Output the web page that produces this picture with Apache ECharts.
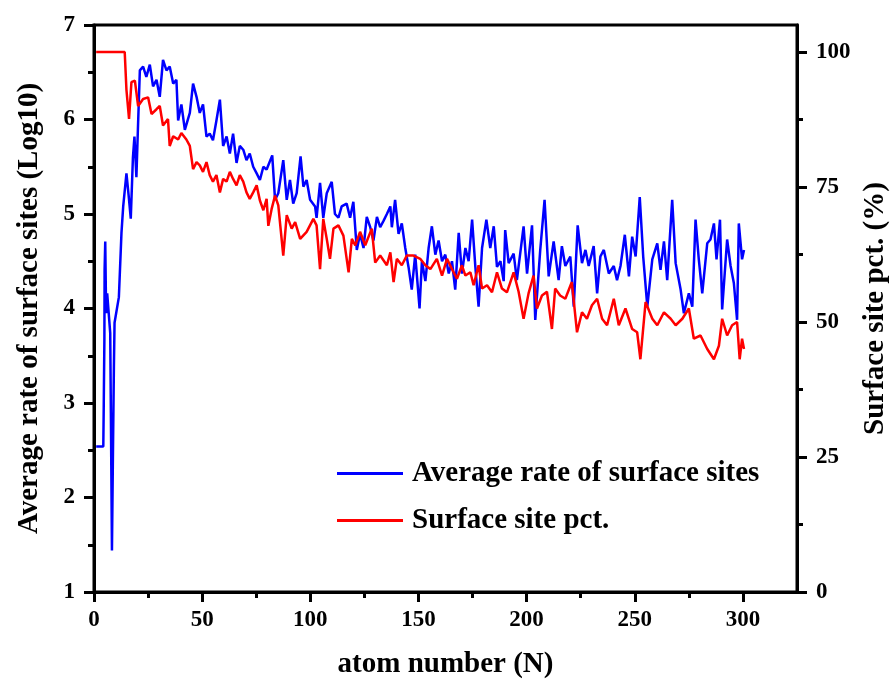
<!DOCTYPE html>
<html>
<head>
<meta charset="utf-8">
<script src="https://cdn.jsdelivr.net/npm/echarts@6/dist/echarts.min.js"></script>
<style>
html,body{margin:0;padding:0;background:#fff;}
#chart{width:893px;height:681px;}
</style>
</head>
<body>
<div id="chart"></div>
<script>
// Blue series: Average rate of surface sites (Log10) — [atom number, value]
const rateN = [1,4.3,4.5,4.8,4.9,5.2,5.6,6.1,6.8,7.5,7.8,8.3,8.7,9.2,9.5,11.5,12.7,13.5,15,16,17,18,18.7,19.6,20.3,21.2,22.7,24.2,25.8,27.3,28.9,30.4,31.9,33.5,35,36.6,38.1,38.9,40.4,42,44.3,45.8,47.4,48.9,50.4,52,53.5,55,56.6,58.2,59.7,61.3,62.8,64.3,65.9,67.4,69,70.5,72,73.6,75.2,76.7,78.3,79.8,82.4,83.7,85.2,87.5,89.1,90.6,92.1,93.7,95.5,96.8,98.3,99.9,102.2,102.9,104.5,106,107.6,109.9,111.4,113,114.5,116.8,118.4,119.9,121.5,123,124.6,126.1,127.7,129.2,130.8,132.3,133.9,135.4,137,137.7,139.2,140.8,142.3,143.9,145.4,146.9,148.5,150.5,151.6,153.2,154.7,156.2,157.8,159.3,160.9,162.4,164,165.5,167,168.6,170.1,171.7,173.2,174.8,176.3,177.8,179.4,181.4,183.2,184.8,186.3,187.9,189.4,190.1,191.7,194,195.5,198.6,200.2,202.5,204,206.3,208.3,210.2,212.5,214.8,216.3,217.9,220.2,221.8,223.6,225.6,227.2,228.7,231,232.6,234.1,235.7,238,240.3,241.8,243.4,245.4,247.3,248.8,250.4,252.3,253.9,255.8,258.1,260.4,261.9,263.5,265,267.3,268.9,271.2,272.7,275,276.6,278.1,279.6,281.2,283.5,285,286.6,287.8,289.4,290.4,292.7,294.3,295.8,297.3,298.1,299.6,300.5];
const rateV = [2.54,2.54,2.96,3.67,4.41,4.71,3.95,4.16,4.16,3.74,2.9,1.44,2.33,3.38,3.85,4.12,4.8,5.08,5.43,5.2,4.95,5.6,5.82,5.39,5.9,6.52,6.56,6.45,6.58,6.35,6.42,6.24,6.63,6.52,6.56,6.38,6.42,5.99,6.16,5.89,6.07,6.38,6.24,6.07,6.16,5.82,5.85,5.78,5.99,6.21,5.72,5.82,5.64,5.85,5.54,5.72,5.68,5.57,5.64,5.5,5.43,5.36,5.5,5.47,5.62,5.15,5.22,5.57,5.15,5.36,5.11,5.22,5.61,5.29,5.36,5.15,5.08,4.96,5.33,4.96,5.22,5.34,5.0,4.96,5.08,5.11,4.96,5.13,4.62,4.79,4.64,4.97,4.86,4.72,4.97,4.86,4.93,5.0,5.08,4.86,5.15,4.79,4.9,4.64,4.44,4.2,4.57,4.0,4.5,4.29,4.64,4.87,4.57,4.72,4.5,4.57,4.37,4.5,4.2,4.8,4.37,4.64,4.5,4.94,4.44,4.02,4.64,4.94,4.64,4.87,4.44,4.5,4.29,4.83,4.48,4.58,4.3,4.87,4.37,4.88,3.88,4.62,5.15,4.34,4.71,4.3,4.66,4.45,4.55,4.02,4.88,4.48,4.62,4.45,4.66,4.16,4.55,4.62,4.37,4.45,4.3,4.45,4.78,4.34,4.76,4.55,5.18,4.55,4.02,4.52,4.69,4.41,4.71,4.3,5.15,4.48,4.2,3.95,4.16,4.02,4.94,4.52,4.16,4.69,4.73,4.9,4.52,4.94,3.99,4.73,4.45,4.27,3.88,4.9,4.52,4.62];

// Red series: Surface site pct. (%) — [atom number, value]
const pctN = [1,14.2,15,16.2,17.3,18.9,20.4,22.7,25,26.6,28.9,30.4,31.9,34.2,35,36.6,38.9,40.4,42.7,44.3,45.8,47.4,48.9,50.4,52,53.5,55,56.6,58.2,59.7,61.3,62.8,64.3,65.9,67.4,69,70.5,72,73.6,75.2,76.7,78.3,79.8,80.6,82.1,83.7,85.2,87.5,89.1,91.4,93,95.3,98.3,101.4,102.9,104.5,106,107.6,109.1,110.7,113,115.3,117.7,119.2,120.8,123,125.4,128.4,130,132.3,135.4,137,138.5,140,142.3,144.6,147.7,150.8,153.2,155.5,158.5,160.9,163.2,165.5,167.8,170.1,171.7,174,175.5,177.8,179.4,181.7,184,186.3,188.6,190.9,194,196.3,198.6,200.9,203.2,204.8,207.1,209.4,211.7,213.2,215.5,217.9,220.9,223.3,225.6,227.9,230.2,232.6,234.9,237.2,240.3,242.6,245.7,248.8,251.1,252.6,255,258.1,260.4,263.5,266.6,268.9,272,275,277.3,280.4,283.5,286.6,288.9,290.4,292.7,295,297.3,298.5,299.6,300.5];
const pctV = [100,100,93,87.6,94.4,94.7,90,91.3,91.6,88.5,89.4,90,86.4,87.6,82.6,84.4,83.8,85,83.8,82.6,78.3,79.6,79,77.8,79.6,77.2,76,77.2,74,76.5,76,77.8,76.5,75.3,77.2,76,74,72.8,74,75.3,72.5,70.7,72.8,67.8,70.9,73.4,71.6,62.3,69.8,67.3,68.5,65.4,66.7,69.1,67.9,59.8,69.1,65.4,61.7,67.3,67.9,66,59.2,65.4,64.2,66.7,64.2,67.3,61,62.3,60.5,62.9,57.4,61.7,60.5,62.3,62.3,61.7,60.5,59.8,61.7,58.6,61.7,59.8,58,60.5,58.6,59.2,56.8,60.5,56.2,56.8,55.5,59.2,56.2,55.5,59.2,55.6,50.6,55.3,58.6,52.5,54.9,55.6,48.7,56.2,54.9,54.3,57.4,48.1,51.8,50.6,53.1,54.3,50.6,49.4,54.3,49.4,52.5,48.7,48.1,43.1,53.7,50.6,49.4,51.8,50.6,49.4,50.6,52.5,46.9,47.5,45,43.1,45.6,50.6,47.5,49.4,50,43.1,46.9,45];

const xTicks = [0,50,100,150,200,250,300];
const xMinor = [25,75,125,175,225,275];
const leftTicks = [1,2,3,4,5,6,7];
const rightTicks = [0,25,50,75,100];
const rightMinor = [12.5,37.5,62.5,87.5];

const FONT = "'Liberation Serif','Times New Roman',serif";
const blk = '#000';

function pairs(xs, ys){ return xs.map((x,i)=>[x, ys[i]]); }

const chart = echarts.init(document.getElementById('chart'), null, {renderer:'canvas'});
const labelStyle = {fontFamily: FONT, fontWeight:'bold', fontSize:23, color: blk};
const nameStyle = {fontFamily: FONT, fontWeight:'bold', fontSize:29, color: blk};

chart.setOption({
  animation:false,
  backgroundColor:'#fff',
  grid:{left:94, right:96, top:25, bottom:89, show:true, borderColor:blk, borderWidth:3, backgroundColor:'transparent', outerBoundsMode:'none', containLabel:false},
  legend:{
    orient:'vertical', left:332, top:454, itemWidth:66, itemHeight:3, itemGap:18,
    textStyle:{fontFamily:FONT, fontWeight:'bold', fontSize:29, color:blk, padding:[0,0,0,4]},
    data:[
      {name:'Average rate of surface sites', icon:'rect'},
      {name:'Surface site pct.', icon:'rect'}
    ]
  },
  xAxis:[{
    type:'value', min:0, max:325, position:'bottom',
    name:'atom number (N)', nameLocation:'middle', nameGap:58, nameTextStyle:nameStyle,
    axisLine:{show:true, onZero:false, lineStyle:{color:blk, width:3}},
    axisTick:{show:true, inside:false, length:10, lineStyle:{color:blk, width:3}, customValues:xTicks},
    axisLabel:{...labelStyle, margin:17, customValues:xTicks},
    splitLine:{show:false}
  },{
    type:'value', min:0, max:325, position:'bottom', offset:0,
    axisLine:{show:false, onZero:false},
    axisTick:{show:true, inside:false, length:6, lineStyle:{color:blk, width:3}, customValues:xMinor},
    axisLabel:{show:false, customValues:xMinor},
    splitLine:{show:false}
  }],
  yAxis:[{
    type:'value', min:1, max:7, interval:1, position:'left',
    name:'Average rate of surface sites (Log10)', nameLocation:'middle', nameGap:50, nameTextStyle:nameStyle,
    axisLine:{show:true, onZero:false, lineStyle:{color:blk, width:3}},
    axisTick:{show:true, inside:false, length:10, lineStyle:{color:blk, width:3}},
    minorTick:{show:true, splitNumber:2, length:6, lineStyle:{color:blk, width:3}},
    axisLabel:{...labelStyle, margin:19},
    splitLine:{show:false}, minorSplitLine:{show:false}
  },{
    type:'value', min:0, max:105, position:'right',
    name:'Surface site pct. (%)', nameLocation:'middle', nameGap:64, nameRotate:90, nameTextStyle:nameStyle,
    axisLine:{show:true, onZero:false, lineStyle:{color:blk, width:3}},
    axisTick:{show:true, inside:false, length:10, lineStyle:{color:blk, width:3}, customValues:rightTicks},
    axisLabel:{...labelStyle, margin:19, customValues:rightTicks},
    splitLine:{show:false}
  },{
    type:'value', min:0, max:105, position:'right', offset:0,
    axisLine:{show:false, onZero:false},
    axisTick:{show:true, inside:false, length:6, lineStyle:{color:blk, width:3}, customValues:rightMinor},
    axisLabel:{show:false, customValues:rightMinor},
    splitLine:{show:false}
  }],
  series:[{
    name:'Average rate of surface sites', type:'line', xAxisIndex:0, yAxisIndex:0,
    data:pairs(rateN, rateV), showSymbol:false, symbol:'none',
    lineStyle:{color:'#0000ff', width:2.5}, itemStyle:{color:'#0000ff'}
  },{
    name:'Surface site pct.', type:'line', xAxisIndex:0, yAxisIndex:1,
    data:pairs(pctN, pctV), showSymbol:false, symbol:'none',
    lineStyle:{color:'#ff0000', width:2.5}, itemStyle:{color:'#ff0000'}
  }]
});
</script>
</body>
</html>
